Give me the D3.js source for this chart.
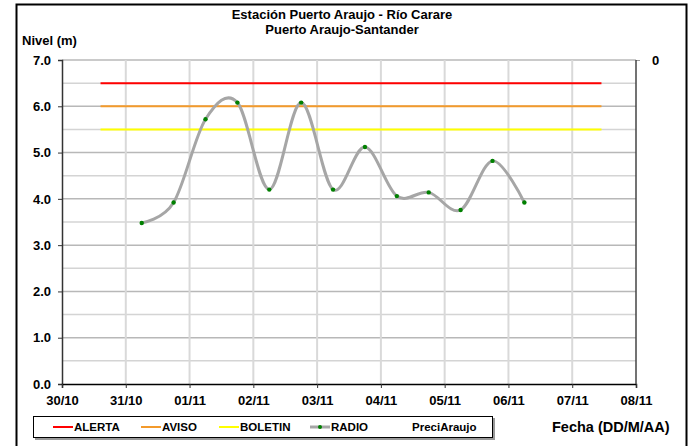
<!DOCTYPE html>
<html>
<head>
<meta charset="utf-8">
<script src="https://cdn.jsdelivr.net/npm/d3@7"></script>
<style>
	body { margin: 0; background: #fff; }
	svg { display: block; font-family: "Liberation Sans", Arial, sans-serif; font-weight: bold; }
</style>
</head>
<body>
<svg id="chart" width="691" height="446"></svg>
<script>
// niveles (m)
const radioFechas = ["31/10 06:00", "31/10 18:00", "01/11 06:00", "01/11 18:00", "02/11 06:00", "02/11 18:00",
	"03/11 06:00", "03/11 18:00", "04/11 06:00", "04/11 18:00", "05/11 06:00", "05/11 18:00", "06/11 06:00"];
const radioNivel = [3.48, 3.92, 5.72, 6.08, 4.20, 6.08, 4.20, 5.12, 4.06, 4.14, 3.76, 4.82, 3.92];

const umbralNombres = ["ALERTA", "AVISO", "BOLETIN"];
const umbralNivel = [6.5, 6.0, 5.5];
const umbralRango = ["30/10 14:30", "07/11 11:00"];

const diasTicks = ["30/10", "31/10", "01/11", "02/11", "03/11", "04/11", "05/11", "06/11", "07/11", "08/11"];
const nivelTicks = [0, 1, 2, 3, 4, 5, 6, 7];
const leyenda = ["ALERTA", "AVISO", "BOLETIN", "RADIO", "PreciAraujo"];

(() => {
	const parse = d3.timeParse("%d/%m %H:%M");
	const colores = { ALERTA: "#ff0000", AVISO: "#f39a2b", BOLETIN: "#ffff00" };

	const svg = d3.select("#chart");
	const m = { top: 60, left: 62, right: 636, bottom: 384 };

	// marco exterior
	svg.append("rect").attr("x", 16.5).attr("y", 4.5).attr("width", 670).attr("height", 470)
		.attr("fill", "none").attr("stroke", "#000").attr("stroke-width", 2);

	const x = d3.scaleTime()
		.domain([parse(diasTicks[0] + " 00:00"), parse(diasTicks[diasTicks.length - 1] + " 00:00")])
		.range([m.left, m.right]);
	const y = d3.scaleLinear().domain([0, 7]).range([m.bottom, m.top]);

	// rejilla horizontal cada 0.5
	svg.append("g").selectAll("line").data(d3.range(1, 15).map(d => d / 2)).join("line")
		.attr("x1", m.left).attr("x2", m.right)
		.attr("y1", d => y(d)).attr("y2", d => y(d))
		.attr("stroke", d => d % 1 === 0 ? "#b8b8b8" : "#d4d4d4").attr("stroke-width", 1.5);

	// rejilla vertical por dia
	svg.append("g").selectAll("line").data(diasTicks.slice(1, -1)).join("line")
		.attr("x1", d => x(parse(d + " 00:00"))).attr("x2", d => x(parse(d + " 00:00")))
		.attr("y1", m.top).attr("y2", m.bottom)
		.attr("stroke", "#d9d9d9").attr("stroke-width", 2);

	// umbrales
	svg.append("g").selectAll("line").data(umbralNombres).join("line")
		.attr("x1", x(parse(umbralRango[0]))).attr("x2", x(parse(umbralRango[1])))
		.attr("y1", (d, i) => y(umbralNivel[i])).attr("y2", (d, i) => y(umbralNivel[i]))
		.attr("stroke", d => colores[d]).attr("stroke-width", 2);

	// ejes
	const yAxis = svg.append("g").attr("transform", `translate(${m.left},0)`)
		.call(d3.axisLeft(y).tickValues(nivelTicks).tickFormat(d3.format(".1f")).tickSize(4).tickPadding(7));
	yAxis.select(".domain").attr("stroke", "#333").attr("stroke-width", 1.5);
	yAxis.selectAll(".tick line").attr("stroke", "#333");
	yAxis.selectAll("text").attr("font-size", "13px").attr("fill", "#000");

	const xAxis = svg.append("g").attr("transform", `translate(0,${m.bottom})`)
		.call(d3.axisBottom(x).tickValues(diasTicks.map(d => parse(d + " 00:00")))
			.tickFormat(d3.timeFormat("%d/%m")).tickSize(4).tickPadding(8));
	xAxis.select(".domain").attr("stroke", "#000").attr("stroke-width", 1.5);
	xAxis.selectAll(".tick line").attr("stroke", "#333");
	xAxis.selectAll("text").attr("font-size", "13px").attr("fill", "#000");

	// eje secundario
	const y2 = d3.scaleLinear().domain([0, 0]).range([m.top, m.top]);
	const y2Axis = svg.append("g").attr("transform", `translate(${m.right},0)`)
		.call(d3.axisRight(y2).tickValues([0]).tickFormat(d3.format("d")).tickSize(4).tickPadding(12));
	y2Axis.select(".domain").remove();
	y2Axis.selectAll(".tick line").attr("stroke", "#999");
	y2Axis.selectAll("text").attr("font-size", "13px").attr("fill", "#000");
	svg.append("line").attr("x1", m.right).attr("x2", m.right).attr("y1", m.top).attr("y2", m.bottom)
		.attr("stroke", "#444").attr("stroke-width", 1.5);

	// serie RADIO
	const datos = radioFechas.map((f, i) => ({ t: parse(f), v: radioNivel[i] }));
	const linea = d3.line().x(d => x(d.t)).y(d => y(d.v)).curve(d3.curveCardinal.tension(0));
	svg.append("path").datum(datos).attr("d", linea)
		.attr("fill", "none").attr("stroke", "#a6a6a6").attr("stroke-width", 3);
	svg.append("g").selectAll("circle").data(datos).join("circle")
		.attr("cx", d => x(d.t)).attr("cy", d => y(d.v)).attr("r", 2.2).attr("fill", "#008000");

	// titulos
	svg.append("text").attr("x", 342).attr("y", 19).attr("text-anchor", "middle")
		.attr("font-size", "13px").text("Estación Puerto Araujo - Río Carare");
	svg.append("text").attr("x", 342).attr("y", 34).attr("text-anchor", "middle")
		.attr("font-size", "13px").text("Puerto Araujo-Santander");
	svg.append("text").attr("x", 22).attr("y", 45).attr("font-size", "13px").text("Nivel (m)");
	svg.append("text").attr("x", 552).attr("y", 432).attr("font-size", "14.5px").text("Fecha (DD/M/AA)");

	// leyenda
	svg.append("rect").attr("x", 35).attr("y", 418).attr("width", 460).attr("height", 22).attr("fill", "#999");
	svg.append("rect").attr("x", 33.5).attr("y", 416.5).attr("width", 459).attr("height", 21)
		.attr("fill", "#fff").attr("stroke", "#000");
	const lx = [53, 141, 219, 310, 412];
	const item = svg.append("g").selectAll("g").data(leyenda).join("g")
		.attr("transform", (d, i) => `translate(${lx[i]},427)`);
	item.filter(d => colores[d]).append("line").attr("x1", 0).attr("x2", 20)
		.attr("stroke", d => colores[d]).attr("stroke-width", 2);
	item.filter(d => d === "RADIO").append("line").attr("x1", 0).attr("x2", 20)
		.attr("stroke", "#a6a6a6").attr("stroke-width", 3);
	item.filter(d => d === "RADIO").append("circle").attr("cx", 10).attr("r", 2).attr("fill", "#008000");
	item.append("text").attr("x", d => d === "PreciAraujo" ? 0 : 21).attr("dy", "0.35em")
		.attr("font-size", "11.5px").text(d => d);
})();
</script>
</body>
</html>
